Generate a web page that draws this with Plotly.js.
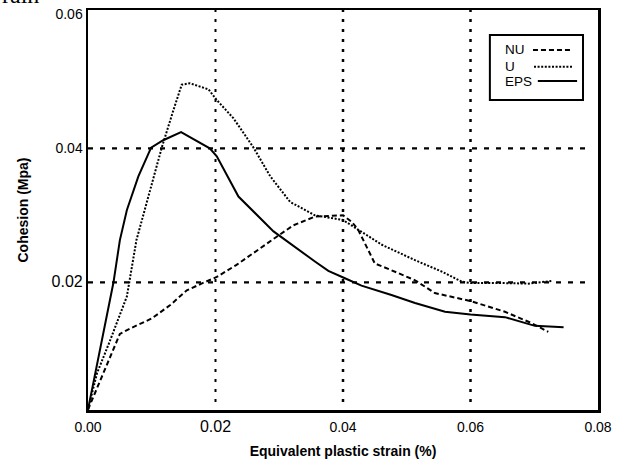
<!DOCTYPE html>
<html>
<head>
<meta charset="utf-8">
<script src="https://cdn.plot.ly/plotly-3.0.1.min.js"></script>
<style>html,body{margin:0;padding:0;background:#fff;}</style>
</head>
<body>
<div id="chart" style="width:630px;height:465px;"></div>
<script>
// ---- data ----
const seriesNames = ["NU", "U", "EPS"];

const nuX = [0, 0.0050, 0.0066, 0.0100, 0.0129, 0.0155, 0.0178, 0.0202, 0.0233, 0.0265, 0.0296, 0.0322, 0.0356, 0.0400, 0.0414, 0.0424, 0.0450, 0.0476, 0.0513, 0.0544, 0.0600, 0.0654, 0.0696, 0.0722];
const nuY = [0.001, 0.0123, 0.0131, 0.0146, 0.0166, 0.0188, 0.0198, 0.0208, 0.0226, 0.0248, 0.0268, 0.0285, 0.0298, 0.0300, 0.0290, 0.0278, 0.0228, 0.0218, 0.0203, 0.0184, 0.0172, 0.0156, 0.0139, 0.0126];

const uX = [0, 0.0014, 0.0035, 0.0061, 0.0076, 0.0097, 0.0116, 0.0134, 0.0147, 0.0160, 0.0189, 0.0202, 0.0228, 0.0259, 0.0286, 0.0317, 0.0356, 0.0400, 0.0424, 0.0461, 0.0513, 0.0555, 0.0586, 0.0600, 0.0644, 0.0691, 0.0727];
const uY = [0.001, 0.0064, 0.0114, 0.0179, 0.0263, 0.0338, 0.0402, 0.0457, 0.0495, 0.0497, 0.0488, 0.0472, 0.0445, 0.0402, 0.0358, 0.0320, 0.0300, 0.0293, 0.0278, 0.0256, 0.0233, 0.0216, 0.0201, 0.0199, 0.0199, 0.0198, 0.0202];

const epsX = [0, 0.0040, 0.0050, 0.0061, 0.0079, 0.0099, 0.0118, 0.0146, 0.0191, 0.0202, 0.0236, 0.0291, 0.0356, 0.0377, 0.0403, 0.0429, 0.0476, 0.0513, 0.0560, 0.0600, 0.0654, 0.0701, 0.0746];
const epsY = [0.001, 0.0200, 0.0263, 0.0308, 0.0358, 0.0401, 0.0412, 0.0424, 0.0400, 0.0388, 0.0328, 0.0276, 0.0231, 0.0217, 0.0206, 0.0195, 0.0181, 0.0169, 0.0156, 0.0152, 0.0148, 0.0135, 0.0133];

const xTickVals = [0, 0.02, 0.04, 0.06, 0.08];
const xTickText = ["0.00", "0.02", "0.04", "0.06", "0.08"];
const yTickVals = [0.02, 0.04, 0.06];
const yTickText = ["0.02", "0.04", "0.06"];
const xGridVals = [0.02, 0.04, 0.06];
const yGridVals = [0.02, 0.04];

// ---- styling ----
const dashes = ["5px,3px", "2px,1.6px", "solid"];
const FONT = "Liberation Sans, Arial, sans-serif";

function bigTick(t) { return t === "0.02" ? '<span style="font-size:16px">' + t + '</span>' : t; }

const traces = [
  {x: nuX, y: nuY, name: seriesNames[0], mode: "lines", line: {color: "#000", width: 2, dash: dashes[0]}},
  {x: uX, y: uY, name: seriesNames[1], mode: "lines", line: {color: "#000", width: 2, dash: dashes[1]}},
  {x: epsX, y: epsY, name: seriesNames[2], mode: "lines", line: {color: "#000", width: 2, dash: dashes[2]}}
];

const shapes = [];
xGridVals.forEach((v, i) => shapes.push({type: "line", xref: "x", yref: "paper", x0: v, x1: v, y0: 0.02, y1: 1,
  line: {color: "#000", width: i === 0 ? 2 : 2.5, dash: "3px,7px"}, layer: "below"}));
yGridVals.forEach(v => shapes.push({type: "line", xref: "paper", yref: "y", x0: 0, x1: 0.988, y0: v, y1: v,
  line: {color: "#000", width: 2.2, dash: "5px,7px"}, layer: "below"}));

// custom legend (text left, sample line right), in paper coordinates
shapes.push({type: "rect", xref: "paper", yref: "paper", x0: 0.788, x1: 0.9706, y0: 0.775, y1: 0.9375,
  line: {color: "#000", width: 2}, fillcolor: "#fff"});
const legY = [0.9, 0.858, 0.8225];
const legX0 = [0.8725, 0.8745, 0.882];
const legX1 = [0.949, 0.949, 0.959];
const annotations = [];
seriesNames.forEach((n, i) => {
  shapes.push({type: "line", xref: "paper", yref: "paper", x0: legX0[i], x1: legX1[i], y0: legY[i], y1: legY[i],
    line: {color: "#000", width: 2, dash: dashes[i]}});
  annotations.push({xref: "paper", yref: "paper", x: 0.8137, y: legY[i], xanchor: "left", yanchor: "middle",
    text: n, showarrow: false, font: {family: FONT, size: 13.5, color: "#000"}});
});
// fragment of the surrounding caption at the top-left corner
annotations.push({xref: "paper", yref: "paper", x: -0.1725, y: 1.0, xanchor: "left", yanchor: "bottom",
  text: "rain", showarrow: false, font: {family: "Liberation Serif, Times New Roman, serif", size: 24, color: "#000"}});

const layout = {
  width: 630, height: 465,
  margin: {l: 88, r: 32, t: 10, b: 55},
  paper_bgcolor: "#fff", plot_bgcolor: "#fff",
  showlegend: false,
  font: {family: FONT, color: "#000"},
  xaxis: {
    range: [0, 0.08], tickvals: xTickVals, ticktext: xTickText.map(bigTick),
    showgrid: false, zeroline: false, showline: true, mirror: true, linewidth: 2.5, linecolor: "#000",
    ticks: "", ticklabelstandoff: 3, tickfont: {family: FONT, size: 14, color: "#000"},
    title: {text: "<b>Equivalent plastic strain (%)</b>", font: {family: FONT, size: 14, color: "#000"}, standoff: 12}
  },
  yaxis: {
    range: [0.00094, 0.06064], tickvals: yTickVals, ticktext: yTickText.map(bigTick),
    showgrid: false, zeroline: false, showline: true, mirror: true, linewidth: 2.5, linecolor: "#000",
    ticks: "", tickfont: {family: FONT, size: 14, color: "#000"},
    title: {text: "<b>Cohesion (Mpa)</b>", font: {family: FONT, size: 14, color: "#000"}, standoff: 20}
  },
  shapes: shapes,
  annotations: annotations
};

Plotly.newPlot("chart", traces, layout, {staticPlot: true, displayModeBar: false});
</script>
</body>
</html>
